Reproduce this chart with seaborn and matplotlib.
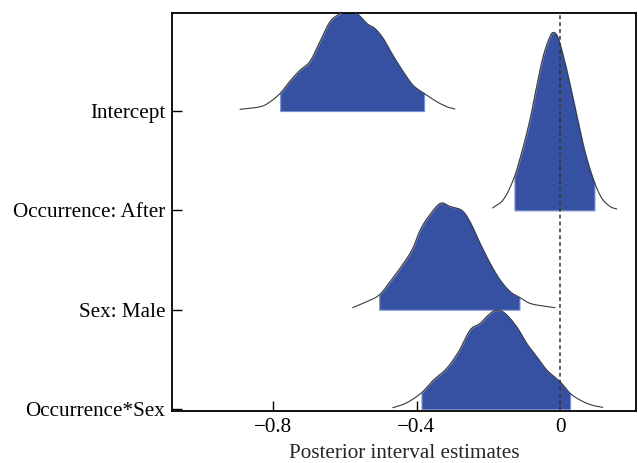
import numpy as np
import pandas as pd
import matplotlib
matplotlib.use("Agg")
import matplotlib.pyplot as plt
import seaborn as sns

# Posterior density outlines (estimate, scaled density) and 90% intervals
params = ["Occurrence*Sex", "Sex: Male", "Occurrence: After", "Intercept"]

intercept_x = [-0.892, -0.836, -0.808, -0.780, -0.753, -0.725, -0.697, -0.669, -0.641,
               -0.613, -0.594, -0.566, -0.538, -0.516, -0.493, -0.466, -0.438, -0.410,
               -0.379, -0.343, -0.315, -0.293]
intercept_d = [0.017, 0.043, 0.093, 0.178, 0.30, 0.41, 0.50, 0.70, 0.90, 0.98, 1.00,
               0.98, 0.88, 0.83, 0.73, 0.56, 0.40, 0.26, 0.178, 0.093, 0.043, 0.02]

after_x = [-0.188, -0.158, -0.130, -0.107, -0.084, -0.065, -0.047, -0.028, -0.017,
           -0.005, 0.014, 0.033, 0.051, 0.070, 0.093, 0.116, 0.139, 0.158]
after_d = [0.024, 0.108, 0.31, 0.58, 0.91, 1.25, 1.55, 1.75, 1.79, 1.73, 1.48, 1.18,
           0.88, 0.58, 0.31, 0.125, 0.04, 0.014]

male_x = [-0.578, -0.539, -0.504, -0.474, -0.446, -0.413, -0.390, -0.367, -0.334,
          -0.307, -0.274, -0.251, -0.223, -0.195, -0.167, -0.139, -0.113, -0.084,
          -0.047, -0.014]
male_d = [0.02, 0.08, 0.148, 0.281, 0.416, 0.60, 0.80, 0.935, 1.07, 1.04, 1.00, 0.884,
          0.667, 0.466, 0.298, 0.181, 0.125, 0.064, 0.037, 0.02]

inter_x = [-0.466, -0.427, -0.386, -0.353, -0.316, -0.283, -0.251, -0.223, -0.200,
           -0.178, -0.153, -0.121, -0.093, -0.065, -0.037, 0.0, 0.028, 0.056, 0.088,
           0.119]
inter_d = [0.013, 0.063, 0.164, 0.291, 0.409, 0.576, 0.794, 0.861, 0.945, 0.995, 0.962,
           0.827, 0.66, 0.526, 0.392, 0.274, 0.158, 0.09, 0.04, 0.017]

ci_low = [-0.386, -0.504, -0.127, -0.780]
ci_high = [0.028, -0.113, 0.096, -0.379]

xticks = [-0.8, -0.4, 0.0]
xtick_labels = ["\u22120.8", "\u22120.4", "0"]

curves = {
    "Occurrence*Sex": (inter_x, inter_d),
    "Sex: Male": (male_x, male_d),
    "Occurrence: After": (after_x, after_d),
    "Intercept": (intercept_x, intercept_d),
}


def smooth_path(xs, ys, steps=12):
    """Catmull-Rom curve through the given vertices, for a smooth outline."""
    xs = np.asarray(xs, float)
    ys = np.asarray(ys, float)
    px = np.concatenate([[2 * xs[0] - xs[1]], xs, [2 * xs[-1] - xs[-2]]])
    py = np.concatenate([[2 * ys[0] - ys[1]], ys, [2 * ys[-1] - ys[-2]]])
    out_x, out_y = [], []
    t = np.linspace(0, 1, steps, endpoint=False)
    for k in range(1, len(px) - 2):
        for arr, out in ((px, out_x), (py, out_y)):
            p0, p1, p2, p3 = arr[k - 1], arr[k], arr[k + 1], arr[k + 2]
            out.extend(0.5 * (2 * p1 + (-p0 + p2) * t
                              + (2 * p0 - 5 * p1 + 4 * p2 - p3) * t ** 2
                              + (-p0 + 3 * p1 - 3 * p2 + p3) * t ** 3))
    out_x.append(xs[-1])
    out_y.append(ys[-1])
    return np.array(out_x), np.array(out_y)


rows = []
for i, p in enumerate(params):
    sx, sd = smooth_path(*curves[p])
    for x, d in zip(sx, sd):
        rows.append({"parameter": p, "row": i, "x": x, "density": max(d, 0.0),
                     "y": i + max(d, 0.0)})
df = pd.DataFrame(rows)

sns.set_style("white")
plt.rcParams["font.family"] = ["Liberation Serif", "DejaVu Serif"]

fig = plt.figure(figsize=(6.38, 4.63), dpi=100)
ax = fig.add_axes([172 / 638, 1 - 411 / 463, (636 - 172) / 638, (411 - 13) / 463])

fill_color = "#3650a2"
edge_light = "#7d90d2"

for i, p in enumerate(params):
    sub = df[df["parameter"] == p]
    xs = sub["x"].to_numpy()
    ds = sub["density"].to_numpy()
    grid = np.linspace(ci_low[i], ci_high[i], 300)
    top = i + np.interp(grid, xs, ds)
    ax.fill_between(grid, i, top, color=fill_color, edgecolor=edge_light,
                    linewidth=0.8, zorder=2 + i * 0.01)

sns.lineplot(data=df, x="x", y="y", units="parameter", estimator=None, sort=False,
             color="#3a3a3a", linewidth=0.8, ax=ax, zorder=3)

ax.axvline(0, color="#333333", linestyle=(0, (2.5, 2)), linewidth=1.1, zorder=4)

ax.set_xlim(-1.0815, 0.2118)
ax.set_ylim(-0.02, 3.987)
ax.set_xticks(xticks)
ax.set_xticklabels(xtick_labels)
ax.set_yticks(range(len(params)))
ax.set_yticklabels(params)
ax.tick_params(axis="both", direction="in", length=7, width=1.0, colors="black",
               labelsize=15.2, left=True, bottom=True)
ax.tick_params(axis="x", pad=5)
ax.tick_params(axis="y", pad=5)
ax.set_xlabel("Posterior interval estimates", fontsize=15.2, labelpad=5)
ax.set_ylabel("")

for s in ax.spines.values():
    s.set_visible(True)
    s.set_color("black")
    s.set_linewidth(1.3)

fig.savefig("out.png", dpi=100)
